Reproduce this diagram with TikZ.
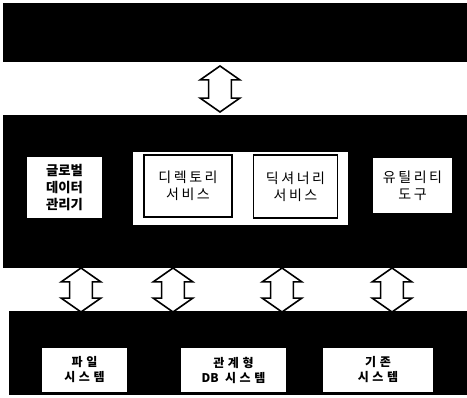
\documentclass[tikz,border=0pt]{standalone}
\usepackage{fontspec}
\setmainfont{Noto Sans CJK KR}
\usetikzlibrary{positioning,shapes.arrows}

\begin{document}
\begin{tikzpicture}[x=0.75pt,y=-0.75pt,
    band/.style={fill=black,draw=none,anchor=north west,inner sep=0pt},
    wbox/.style={fill=white,draw=none,align=center,inner sep=0pt},
    sbox/.style={wbox,draw=black,line width=1.2pt},
    dblarr/.style={double arrow,draw=black,fill=white,line width=1.2pt,rotate=90,
        inner xsep=0pt,inner ysep=7.9pt,minimum width=0pt,double arrow head extend=6.4pt,
        double arrow tip angle=110},
    txt/.style={font=\fontsize{10.5}{12.75}\selectfont\addfontfeature{LetterSpace=18}},
    btxt/.style={font=\fontsize{10}{12.75}\selectfont\bfseries},
    stxt/.style={font=\fontsize{9}{11.25}\selectfont\bfseries\addfontfeature{LetterSpace=30}}]
    \useasboundingbox (0,0) rectangle (467,398);

    % layers
    \node[band,minimum width=348pt,minimum height=44.25pt] (app) at (3,3) {};
    \node[band,minimum width=348pt,minimum height=114.75pt] (gdm) at (3,115) {};
    \node[band,minimum width=343.5pt,minimum height=63pt] (lds) at (9,311) {};

    % middle layer
    \node[wbox,btxt,minimum width=56.25pt,minimum height=45.75pt] (glb) at (64.5,187.5) {글로벌\\데이터\\관리기};
    \node[wbox,minimum width=161.25pt,minimum height=54.75pt] (svc) at (240.5,188.5) {};
    \node[sbox,txt,minimum width=66pt,minimum height=46.5pt] (dir) at (188,186) {디렉토리\\서비스};
    \node[sbox,txt,minimum width=63pt,minimum height=47.25pt] (dic) at (295.5,186.5) {딕셔너리\\서비스};
    \node[wbox,txt,minimum width=59.25pt,minimum height=41.25pt] (util) at (412.5,185.5) {유틸리티\\도구};

    % bottom layer
    \node[wbox,stxt,minimum width=63.75pt,minimum height=33pt] (fs) at (84.5,370) {파일\\시스템};
    \node[wbox,stxt,minimum width=78.75pt,minimum height=33pt] (rdb) at (233.5,370) {관계형\\{\addfontfeature{LetterSpace=0}DB} 시스템};
    \node[wbox,stxt,minimum width=82.5pt,minimum height=33pt] (old) at (378,370) {기존\\시스템};

    % arrows
    \node[dblarr,minimum height=34.5pt] (a0) at (220,89) {};
    \node[dblarr,minimum height=33pt] (a1) at (81,290) {};
    \node[dblarr,minimum height=33pt] (a2) at (173,290) {};
    \node[dblarr,minimum height=33pt] (a3) at (282,290) {};
    \node[dblarr,minimum height=33pt] (a4) at (392,290) {};

\end{tikzpicture}
\end{document}
